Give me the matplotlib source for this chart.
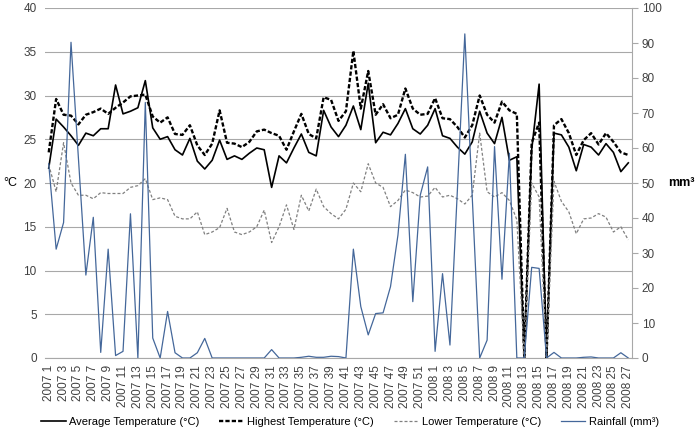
import matplotlib
matplotlib.use("Agg")
import matplotlib.pyplot as plt
import numpy as np

plt.rcParams["font.family"] = ["Liberation Sans", "DejaVu Sans"]
plt.rcParams["font.size"] = 8.5

# weeks: 2007 1..52, 2008 1..27
weeks_2007 = list(range(1, 53))
weeks_2008 = list(range(1, 28))
categories = [f"2007 {w}" for w in weeks_2007] + [f"2008 {w}" for w in weeks_2008]

avg_temp = [21.7, 27.3, 26.4, 25.4, 24.3, 25.7, 25.4, 26.2, 26.2, 31.2,
            27.9, 28.2, 28.6, 31.7, 26.3, 25.0, 25.3, 23.8, 23.2, 25.1,
            22.5, 21.6, 22.6, 24.9, 22.7, 23.1, 22.7, 23.4, 24.0, 23.8,
            19.5, 23.1, 22.3, 24.0, 25.6, 23.5, 23.1, 28.3, 26.4, 25.3,
            26.6, 28.8, 26.1, 31.4, 24.6, 25.8, 25.5, 26.8, 28.5, 26.2,
            25.6, 26.6, 28.5, 25.4, 25.1, 24.1, 23.3, 24.7, 28.2, 25.7,
            24.5, 27.5, 22.6, 23.0, 0.0, 23.8, 31.3, 0.0, 25.7, 25.5,
            24.1, 21.4, 24.4, 24.1, 23.2, 24.5, 23.5, 21.3, 22.3]

high_temp = [23.5, 29.6, 27.8, 27.7, 26.7, 27.8, 28.1, 28.5, 27.9, 28.6,
             29.2, 29.9, 30.0, 30.1, 27.6, 26.9, 27.5, 25.6, 25.5, 26.6,
             24.3, 23.2, 24.5, 28.3, 24.6, 24.5, 24.1, 24.7, 25.9, 26.1,
             25.7, 25.4, 23.8, 25.9, 27.9, 25.6, 25.1, 29.8, 29.5, 27.1,
             28.2, 35.1, 28.5, 32.8, 27.8, 29.0, 27.4, 27.8, 30.8, 28.5,
             27.8, 27.9, 29.7, 27.4, 27.3, 26.4, 25.2, 26.6, 30.0, 27.8,
             26.9, 29.3, 28.3, 27.9, 0.0, 24.6, 26.9, 0.0, 26.6, 27.3,
             25.7, 23.2, 24.9, 25.7, 24.4, 25.7, 24.7, 23.5, 23.2]

low_temp = [22.1, 19.0, 24.6, 20.0, 18.6, 18.6, 18.2, 18.9, 18.8, 18.8,
            18.8, 19.5, 19.7, 20.5, 18.1, 18.3, 18.1, 16.2, 15.9, 15.9,
            16.7, 14.1, 14.4, 14.9, 17.1, 14.4, 14.1, 14.4, 15.0, 16.9,
            13.2, 15.0, 17.5, 14.7, 18.6, 16.8, 19.3, 17.3, 16.5, 15.9,
            17.0, 20.0, 19.0, 22.2, 20.0, 19.5, 17.3, 18.0, 19.2, 18.9,
            18.4, 18.5, 19.5, 18.4, 18.6, 18.2, 17.6, 18.6, 25.7, 19.0,
            18.4, 18.9, 18.0, 15.8, 0.0, 20.0, 18.4, 0.0, 20.2, 17.9,
            16.7, 14.2, 15.9, 16.0, 16.5, 16.1, 14.4, 15.0, 13.5]

rainfall = [55.5, 31.1, 38.7, 90.2, 57.0, 23.7, 40.2, 1.6, 31.1, 0.7,
            1.9, 41.2, 0.0, 73.0, 5.7, 0.0, 13.3, 1.5, 0.0, 0.0,
            1.5, 5.6, 0.0, 0.0, 0.0, 0.0, 0.0, 0.0, 0.0, 0.0,
            2.4, 0.0, 0.0, 0.0, 0.2, 0.5, 0.2, 0.2, 0.5, 0.4,
            0.0, 31.1, 14.7, 6.6, 12.7, 12.9, 20.4, 35.1, 58.2, 16.1,
            46.5, 54.6, 1.9, 24.1, 3.7, 48.0, 92.6, 46.0, 0.0, 5.1,
            60.4, 22.5, 58.5, 0.0, 0.0, 25.9, 25.6, 0.0, 1.6, 0.0,
            0.0, 0.0, 0.2, 0.3, 0.0, 0.0, 0.0, 1.5, 0.0]

x = np.arange(len(categories))

fig = plt.figure(figsize=(6.97, 4.38), dpi=100)
ax = fig.add_axes([45 / 697, 1 - 358 / 438, (632 - 45) / 697, 350 / 438])

ax.plot(x, avg_temp, color="black", lw=1.2, label="Average Temperature (°C)", zorder=3)
ax.plot(x, high_temp, color="black", lw=1.7, linestyle=(0, (1.8, 0.9)),
        label="Highest Temperature (°C)", zorder=3)
ax.plot(x, low_temp, color="#808080", lw=0.9, linestyle=(0, (2.4, 1.6)),
        label="Lower Temperature (°C)", zorder=3)

ax.set_xlim(-0.5, len(x) - 0.5)
ax.set_ylim(0, 40)
ax.set_yticks(np.arange(0, 41, 5))
ax.grid(axis="y", color="#a8a8a8", lw=0.8)
ax.set_axisbelow(True)
ax.set_xticks(x[::2])
ax.set_xticklabels(categories[::2], rotation=90, fontsize=8.5, color="#404040")
ax.tick_params(axis="x", length=0, pad=5)
ax.tick_params(axis="y", length=0, pad=6, labelcolor="#404040")
for s in ["top", "left", "right"]:
    ax.spines[s].set_visible(False)
ax.spines["bottom"].set_color("#a8a8a8")

ax2 = ax.twinx()
ax2.plot(x, rainfall, color="#44679a", lw=0.9, label="Rainfall (mm³)")
ax2.set_ylim(0, 100)
ax2.set_yticks(np.arange(0, 101, 10))
ax2.tick_params(axis="y", length=4, color="#a8a8a8", pad=3, labelcolor="#404040")
for s in ["top", "left", "bottom"]:
    ax2.spines[s].set_visible(False)
ax2.spines["right"].set_color("#a8a8a8")

fig.text(3 / 697, 1 - 183 / 438, "°C", fontsize=9, va="center", ha="left")
fig.text(668 / 697, 1 - 183 / 438, "mm³", fontsize=9, va="center", ha="left", fontweight="bold")

h1, l1 = ax.get_legend_handles_labels()
h2, l2 = ax2.get_legend_handles_labels()
fig.legend(h1 + h2, l1 + l2, loc="center", bbox_to_anchor=(350 / 697, 1 - 422 / 438),
           ncol=4, frameon=False, fontsize=8, handlelength=2.2,
           columnspacing=1.8, handletextpad=0.3)

fig.savefig("out.png", dpi=100)
